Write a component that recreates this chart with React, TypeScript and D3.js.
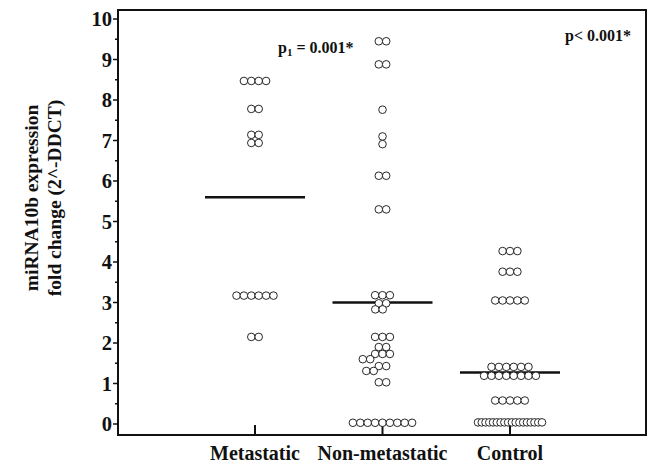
import React from 'react';
import * as d3 from 'd3';

// groups and their values (fold change)
const categories = ['Metastatic', 'Non-metastatic', 'Control'];

const metastatic = [
  8.47, 8.47, 8.47, 8.47, 7.78, 7.78, 7.14, 7.14, 6.94, 6.94,
  3.17, 3.17, 3.17, 3.17, 3.17, 3.17, 2.15, 2.15,
];

const nonMetastatic = [
  9.45, 9.45, 8.88, 8.88, 7.76, 7.1, 6.91, 6.13, 6.13, 5.3, 5.3,
  3.18, 3.18, 3.18, 2.98, 2.98, 2.83, 2.83, 2.15, 2.15, 2.15,
  1.9, 1.9, 1.73, 1.73, 1.73, 1.6, 1.6, 1.43, 1.43, 1.31, 1.31, 1.03, 1.03,
  0.03, 0.03, 0.03, 0.03, 0.03, 0.03, 0.03, 0.03, 0.03,
];

const control = [
  4.27, 4.27, 4.27, 3.76, 3.76, 3.76, 3.05, 3.05, 3.05, 3.05, 3.05,
  1.41, 1.41, 1.41, 1.41, 1.41, 1.41,
  1.19, 1.19, 1.19, 1.19, 1.19, 1.19, 1.19, 1.19,
  0.58, 0.58, 0.58, 0.58, 0.58,
  0.04, 0.04, 0.04, 0.04, 0.04, 0.04, 0.04, 0.04, 0.04,
  0.04, 0.04, 0.04, 0.04, 0.04, 0.04, 0.04, 0.04, 0.04,
];

const medians = [5.6, 3.0, 1.27];
const yTicks = [0, 1, 2, 3, 4, 5, 6, 7, 8, 9, 10];
const pGroup = 'p';
const pGroupSub = '1';
const pGroupText = ' = 0.001*';
const pOverall = 'p< 0.001*';

const W = 649;
const H = 466;
const left = 118, right = 646, top = 10, bottom = 435;

const y = d3.scaleLinear().domain([0, 10]).range([424, 19]);
const x = d3.scalePoint<string>().domain(categories).range([255, 510]);

const R = 3.8;
const GAP = 7.4;
const MIN_D = 7;

// rows of equal values sit side by side; a row is nudged sideways if it hits one above it
function swarm(values: number[]) {
  const groups = d3.groups(values, v => v).sort((a, b) => b[0] - a[0]);
  const placed: { dx: number; cy: number }[] = [];
  const out: { dx: number; v: number }[] = [];
  groups.forEach(([v, arr]) => {
    const n = arr.length;
    const gap = n > 1 ? Math.min(GAP, 64 / (n - 1)) : 0;
    const base = arr.map((_, i) => (i - (n - 1) / 2) * gap);
    const cy = y(v);
    let shift = 0;
    for (let k = 0; k < 80; k++) {
      const s = k === 0 ? 0 : (k % 2 ? -1 : 1) * Math.ceil(k / 2) * 0.5;
      const ok = base.every(b =>
        placed.every(p => Math.hypot(b + s - p.dx, cy - p.cy) >= MIN_D)
      );
      if (ok) { shift = s; break; }
    }
    base.forEach(b => {
      placed.push({ dx: b + shift, cy });
      out.push({ dx: b + shift, v });
    });
  });
  return out;
}

const series = [metastatic, nonMetastatic, control];

export default function App() {
  const font = '"Liberation Serif", "Times New Roman", serif';
  return (
    <svg width={W} height={H} style={{ position: 'absolute', left: 0, top: 0, background: '#fff' }}
      fontFamily={font} fontWeight="bold">
      <rect x={left} y={top} width={right - left} height={bottom - top}
        fill="none" stroke="#111" strokeWidth={2} />

      {/* y axis ticks */}
      {d3.range(0, 10.5, 0.5).map(t => (
        <line key={t} x1={left} x2={left - (t % 1 === 0 ? 5 : 3)}
          y1={y(t)} y2={y(t)} stroke="#111" strokeWidth={1.5} />
      ))}
      {yTicks.map(t => (
        <text key={t} x={left - 6} y={y(t)} dy="0.35em" textAnchor="end" fontSize={20.5} fill="#111">{t}</text>
      ))}

      {/* x ticks and labels */}
      {categories.map(c => (
        <g key={c}>
          <line x1={x(c)} x2={x(c)} y1={bottom} y2={bottom - 10} stroke="#111" strokeWidth={2} />
          <text x={x(c)} y={460} textAnchor="middle" fontSize={20} fill="#111">{c}</text>
        </g>
      ))}

      {/* y title */}
      <g transform="translate(38,198) rotate(-90)">
        <text x={0} y={0} textAnchor="middle" fontSize={19.5} fill="#111">miRNA10b expression</text>
        <text x={0} y={23} textAnchor="middle" fontSize={19.5} fill="#111">fold change (2^-DDCT)</text>
      </g>

      {/* medians */}
      {categories.map((c, i) => (
        <line key={c} x1={x(c)! - 50} x2={x(c)! + 50} y1={y(medians[i])} y2={y(medians[i])}
          stroke="#111" strokeWidth={2.5} />
      ))}

      {/* points */}
      {categories.map((c, i) => (
        <g key={c}>
          {swarm(series[i]).map((p, j) => (
            <circle key={j} cx={x(c)! + p.dx} cy={y(p.v)} r={R}
              fill="#fff" stroke="#111" strokeWidth={0.9} />
          ))}
        </g>
      ))}

      <text x={278} y={53} fontSize={16} fill="#111">
        {pGroup}<tspan fontSize={11} dy={3}>{pGroupSub}</tspan><tspan dy={-3}>{pGroupText}</tspan>
      </text>
      <text x={631} y={41} textAnchor="end" fontSize={16} fill="#111">{pOverall}</text>
    </svg>
  );
}
